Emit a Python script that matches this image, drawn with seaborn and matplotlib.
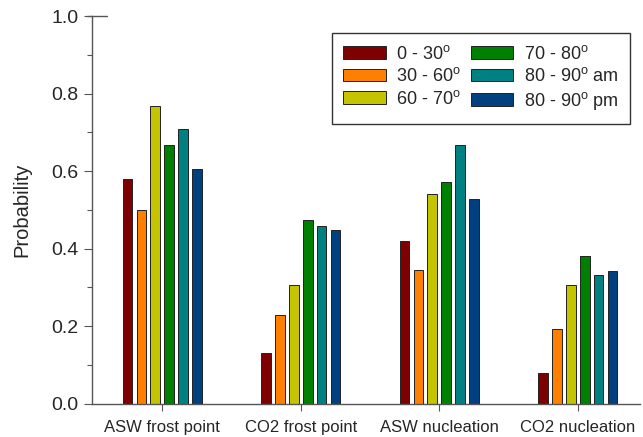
import matplotlib
matplotlib.use("Agg")
import matplotlib.pyplot as plt
import numpy as np
import pandas as pd
import seaborn as sns
from matplotlib.ticker import MultipleLocator, FormatStrFormatter

sns.set_style("ticks")
plt.rcParams['font.family'] = ['Liberation Sans', 'DejaVu Sans']
plt.rcParams['mathtext.fontset'] = 'custom'
plt.rcParams['mathtext.rm'] = 'Liberation Sans'

# data
categories = ['ASW frost point', 'CO2 frost point', 'ASW nucleation', 'CO2 nucleation']
ranges = ['0 - 30$^{\\rm o}$', '30 - 60$^{\\rm o}$', '60 - 70$^{\\rm o}$',
          '70 - 80$^{\\rm o}$', '80 - 90$^{\\rm o}$ am', '80 - 90$^{\\rm o}$ pm']
p_0_30 = [0.58, 0.131, 0.421, 0.079]
p_30_60 = [0.50, 0.229, 0.345, 0.192]
p_60_70 = [0.768, 0.307, 0.540, 0.307]
p_70_80 = [0.667, 0.474, 0.572, 0.380]
p_80_90_am = [0.709, 0.458, 0.667, 0.332]
p_80_90_pm = [0.606, 0.447, 0.527, 0.342]
colors = ['#7f0000', '#ff8000', '#c4c400', '#008000', '#008080', '#003f80']

series = [p_0_30, p_30_60, p_60_70, p_70_80, p_80_90_am, p_80_90_pm]
rows = []
for r, vals in zip(ranges, series):
    for c, v in zip(categories, vals):
        rows.append({'category': c, 'range': r, 'prob': v})
df = pd.DataFrame(rows)

fig = plt.figure(figsize=(6.43, 4.37), dpi=100)
ax = fig.add_axes([0.1435, 0.0762, 0.852, 0.887])

sns.barplot(data=df, x='category', y='prob', hue='range', hue_order=ranges,
            palette=colors, width=0.6, gap=0.3, edgecolor='#222222',
            linewidth=0.7, saturation=1, ax=ax)

ax.set_ylim(0, 1.0)
ax.set_xlim(-0.505, 3.45)
ax.yaxis.set_major_locator(MultipleLocator(0.2))
ax.yaxis.set_minor_locator(MultipleLocator(0.1))
ax.yaxis.set_major_formatter(FormatStrFormatter('%.1f'))
ax.set_xlabel('')
ax.set_ylabel('Probability', fontsize=14.5, labelpad=14)
ax.tick_params(axis='y', which='major', length=6, width=0.8, color='#555555',
               labelsize=14, pad=4)
ax.tick_params(axis='y', which='minor', length=3.5, width=0.8, color='#555555')
ax.tick_params(axis='x', length=5, width=0.8, color='#555555', labelsize=12, pad=7)
for s in ['top', 'right']:
    ax.spines[s].set_visible(False)
for s in ['left', 'bottom']:
    ax.spines[s].set_color('#555555')
    ax.spines[s].set_linewidth(1.0)
# short cap at the top of the y axis
ax.axhline(1.0, xmin=-0.01, xmax=0.026, color='#555555', lw=1.0, clip_on=False)

leg = ax.legend(ncol=2, loc='upper right', bbox_to_anchor=(0.982, 0.956),
                fontsize=13, frameon=True, fancybox=False, edgecolor='black',
                handlelength=2.33, handleheight=0.66, columnspacing=0.55,
                handletextpad=0.6, labelspacing=0.25, borderpad=0.65,
                borderaxespad=0)
leg.get_frame().set_linewidth(1.0)

fig.savefig('out.png', dpi=100)
